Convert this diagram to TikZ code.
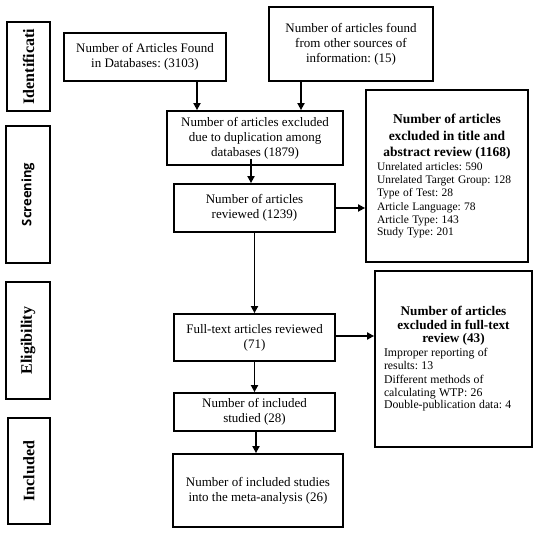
\documentclass[tikz,border=0pt]{standalone}
\usepackage{fontspec}
\setmainfont{Liberation Serif}
\newfontfamily\fasefont{Open Sans}
\usetikzlibrary{arrows.meta}
\frenchspacing

\begin{document}
\begin{tikzpicture}[x=1pt,y=-1pt,
  caja/.style={draw, line width=1.8pt, inner sep=0pt, align=center,
    font=\fontsize{13}{15}\selectfont},
  fase/.style={draw, line width=1.8pt, inner sep=0pt, rotate=90,
    font=\fontsize{16}{18}\selectfont\bfseries},
  lista/.style={draw, line width=1.8pt, inner sep=0pt, align=left},
  flecha/.style={line width=1.7pt, -{Triangle[length=7pt,width=7pt]}}]

  % Fondo y marco de la figura
  \fill[white] (0,0) rectangle (546,537);
  \useasboundingbox (0,0) rectangle (546,537);

  % Cajas laterales de las fases
  \node[fase, minimum width=89pt, minimum height=43pt] (ident) at (28.5,66.5) {Identificati};
  \node[fase, minimum width=137pt, minimum height=44pt,
    font=\fasefont\fontsize{13}{15}\selectfont\bfseries] (scr) at (28,194.5) {Screening};
  \node[fase, minimum width=117pt, minimum height=44pt] (elig) at (28,340.5) {Eligibility};
  \node[fase, minimum width=106pt, minimum height=42pt] (incl) at (29,471) {Included};

  % Identificacion
  \node[caja, minimum width=162pt, minimum height=48pt] (db) at (145,57)
    {Number of Articles Found\\in Databases: (3103)};
  \node[caja, minimum width=164pt, minimum height=74pt] (other) at (351,44)
    {Number of articles found\\from other sources of\\information: (15)};

  % Cribado
  \node[caja, minimum width=176pt, minimum height=54pt] (dup) at (255,138)
    {Number of articles excluded\\due to duplication among\\databases (1879)};
  \node[caja, minimum width=161pt, minimum height=48pt] (rev) at (254.5,208)
    {Number of articles\\reviewed (1239)};
  \node[lista, text width=140pt, minimum width=162pt, minimum height=172pt] (tiab) at (447,176)
    {{\centering\bfseries\fontsize{13.5}{16.7}\selectfont
      Number of articles\\excluded in title and\\abstract review (1168)\par}
     \fontsize{11.5}{13.3}\selectfont
     Unrelated articles: 590\\Unrelated Target Group: 128\\Type of Test: 28\\
     Article Language: 78\\Article Type: 143\\Study Type: 201};

  % Elegibilidad
  \node[caja, minimum width=161pt, minimum height=47pt] (ft) at (254.5,337.5)
    {Full-text articles reviewed\\(71)};
  \node[lista, text width=139pt, minimum width=157pt, minimum height=176pt] (ftex) at (453.5,359)
    {{\centering\bfseries\fontsize{13.2}{13.5}\selectfont
      Number of articles\\excluded in full-text\\review (43)\par}
     \fontsize{11.8}{13.5}\selectfont
     Improper reporting of\\results: 13\\Different methods of\\
     calculating WTP: 26\\Double-publication data: 4};

  % Incluidos
  \node[caja, minimum width=161pt, minimum height=38pt] (incs) at (254.5,412)
    {Number of included\\studied (28)};
  \node[caja, minimum width=170pt, minimum height=73pt] (meta) at (258,490.5)
    {Number of included studies\\into the meta-analysis (26)};

  % Flechas
  \draw[flecha] ([xshift=52pt]db.south) -- ([xshift=52pt]db.south |- dup.north);
  \draw[flecha] ([xshift=-50pt]other.south) -- ([xshift=-50pt]other.south |- dup.north);
  \draw[flecha] ([xshift=-4pt,yshift=7pt]dup.south) -- ([xshift=-4pt]dup.south |- rev.north);
  \draw[flecha] (rev.south) -- (ft.north);
  \draw[flecha] (ft.south) -- (incs.north);
  \draw[flecha] ([xshift=1.5pt]incs.south) -- ([xshift=1.5pt]incs.south |- meta.north);
  \draw[flecha] (rev.east) -- (rev.east -| tiab.west);
  \draw[flecha] ([yshift=1.5pt]ft.east) -- ([yshift=1.5pt]ft.east -| ftex.west);

\end{tikzpicture}
\end{document}
